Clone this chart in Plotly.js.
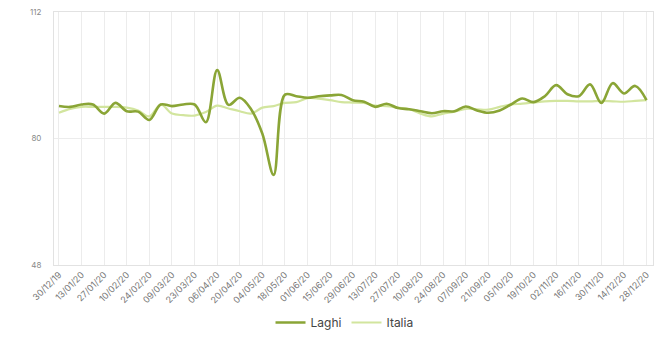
<!DOCTYPE html>
<html>
<head>
<meta charset="utf-8">
<script src="https://cdn.plot.ly/plotly-3.0.1.min.js"></script>
<style>html,body{margin:0;padding:0;background:#fff;}#chart{width:667px;height:337px;}</style>
</head>
<body>
<div id="chart"></div>
<script>
// Weekly dates (Mondays) 30/12/2019 .. 28/12/2020
const weeks = [
 '2019-12-30','2020-01-06','2020-01-13','2020-01-20','2020-01-27','2020-02-03','2020-02-10','2020-02-17',
 '2020-02-24','2020-03-02','2020-03-09','2020-03-16','2020-03-23','2020-03-30','2020-04-06','2020-04-13',
 '2020-04-20','2020-04-27','2020-05-04','2020-05-11','2020-05-18','2020-05-25','2020-06-01','2020-06-08',
 '2020-06-15','2020-06-22','2020-06-29','2020-07-06','2020-07-13','2020-07-20','2020-07-27','2020-08-03',
 '2020-08-10','2020-08-17','2020-08-24','2020-08-31','2020-09-07','2020-09-14','2020-09-21','2020-09-28',
 '2020-10-05','2020-10-12','2020-10-19','2020-10-26','2020-11-02','2020-11-09','2020-11-16','2020-11-23',
 '2020-11-30','2020-12-07','2020-12-14','2020-12-21','2020-12-28'
];
const laghi = [
 88.2, 88.0, 88.6, 88.6, 86.3, 89.0, 86.9, 86.8,
 84.7, 88.6, 88.2, 88.6, 88.6, 84.1, 97.3, 88.5,
 90.3, 87.4, 81.2, 70.8, 91.1, 90.7, 90.3, 90.7,
 90.9, 91.0, 89.7, 89.3, 88.0, 88.8, 87.7, 87.4,
 86.9, 86.4, 86.9, 86.9, 88.1, 87.1, 86.5, 87.1,
 88.6, 90.1, 89.2, 90.7, 93.5, 91.2, 90.7, 93.7,
 89.0, 94.0, 91.4, 93.3, 89.7
];
const italia = [
 86.5, 87.5, 88.0, 88.0, 88.0, 88.0, 87.8, 87.1,
 85.6, 88.6, 86.3, 85.9, 85.8, 86.7, 88.3, 87.6,
 86.9, 86.3, 87.8, 88.2, 89.0, 89.2, 90.2, 90.1,
 89.7, 89.2, 89.1, 89.0, 88.3, 88.2, 87.8, 87.4,
 86.3, 85.6, 86.3, 86.8, 87.5, 87.4, 87.3, 88.0,
 88.6, 88.8, 89.1, 89.4, 89.5, 89.5, 89.4, 89.4,
 89.5, 89.4, 89.3, 89.5, 89.7
];
const yTicks = [48, 80, 112];
const seriesNames = ['Laghi', 'Italia'];

const traces = [
 {x: weeks, y: italia, name: seriesNames[1], type: 'scatter', mode: 'lines',
  line: {color: '#d2e59e', width: 2.2, shape: 'spline', smoothing: 1}},
 {x: weeks, y: laghi, name: seriesNames[0], type: 'scatter', mode: 'lines',
  line: {color: '#8aa536', width: 2.6, shape: 'spline', smoothing: 1}}
];

const layout = {
 width: 667, height: 337,
 margin: {l: 54, r: 14, t: 12, b: 72},
 paper_bgcolor: '#fff', plot_bgcolor: '#fff',
 font: {family: 'Inter, "Open Sans", sans-serif', color: '#666'},
 showlegend: true,
 legend: {orientation: 'h', x: 0.485, xanchor: 'center', xref: 'paper',
  yref: 'container', y: -0.018, yanchor: 'bottom',
  font: {size: 12, color: '#444'}, traceorder: 'reversed', itemwidth: 30},
 xaxis: {
  type: 'date',
  range: ['2019-12-26 22:00', '2021-01-01 00:00'],
  tick0: '2019-12-30', dtick: 14 * 86400000,
  tickformat: '%d/%m/%y', tickangle: -45,
  tickfont: {size: 9, color: '#777'},
  showgrid: true, gridcolor: '#ececec', gridwidth: 1,
  showline: true, mirror: true, linecolor: '#e2e2e2', linewidth: 1,
  zeroline: false, automargin: false, fixedrange: true
 },
 yaxis: {
  range: [48, 112], tickvals: yTicks, ticktext: yTicks.map(String),
  tickfont: {size: 8, color: '#888'},
  ticklabelstandoff: 10,
  showgrid: true, gridcolor: '#ececec', gridwidth: 1,
  showline: true, mirror: true, linecolor: '#e2e2e2', linewidth: 1,
  zeroline: false, automargin: false, fixedrange: true
 }
};

Plotly.newPlot('chart', traces, layout, {displayModeBar: false, staticPlot: true});
</script>
</body>
</html>
